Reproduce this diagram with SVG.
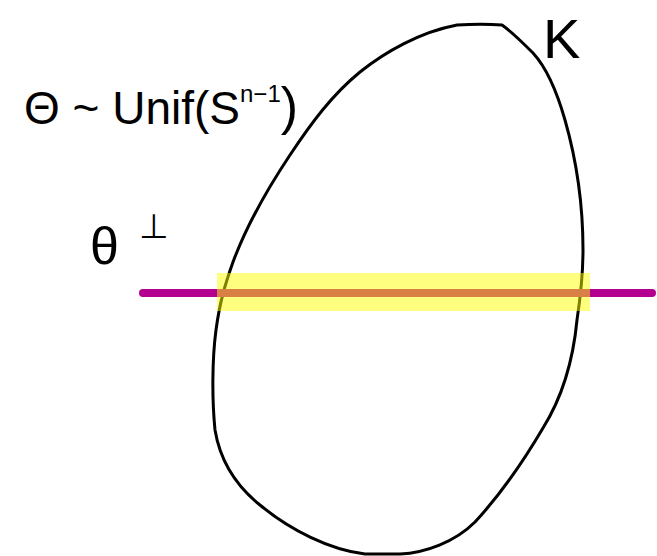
<svg xmlns="http://www.w3.org/2000/svg" width="657" height="556" viewBox="0 0 657 556">
<style>
.hand{font-family:"Liberation Sans","DejaVu Sans",sans-serif;fill:#000}
.outline{fill:none;stroke:#000;stroke-width:3;stroke-linecap:round;stroke-linejoin:round}
</style>
<rect width="657" height="556" fill="#fff"/>
<g id="body-K">
<path class="outline" d="M457,25 C472,24 490,24 502,25 C512,32 522,42 533,53 C545,66 555,85 565,120 C575,155 583,200 583,250 C583,280 580,300 577,320 C573,362 563,396 543,428 C523,462 500,495 475,522 C455,542 425,553 400,554 L365,554 C330,550 290,530 260,505 C235,485 220,460 215,430 C212,400 212,360 216,330 C220,300 226,282 233,262 C248,222 268,188 290,155 C312,122 332,95 360,72 C385,52 420,32 457,25 Z"/>
</g>
<g id="hyperplane">
<line x1="143" y1="293" x2="652" y2="293" stroke="#b3008f" stroke-width="8" stroke-linecap="round"/>
<rect x="217" y="273" width="373" height="38" fill="#ffff00" fill-opacity="0.5"/>
</g>
<g id="label-theta-dist">
<text class="hand" x="24" y="124" font-size="46">Θ ~ Unif(S<tspan font-size="24" dy="-22">n−1</tspan><tspan font-size="52" dy="22">)</tspan></text>
</g>
<g id="label-theta-perp">
<text class="hand" x="90" y="264" font-size="52">θ<tspan font-size="34" dx="20" dy="-26">⊥</tspan></text>
</g>
<g id="label-K">
<text class="hand" x="543" y="58" font-size="56">K</text>
</g>
</svg>
